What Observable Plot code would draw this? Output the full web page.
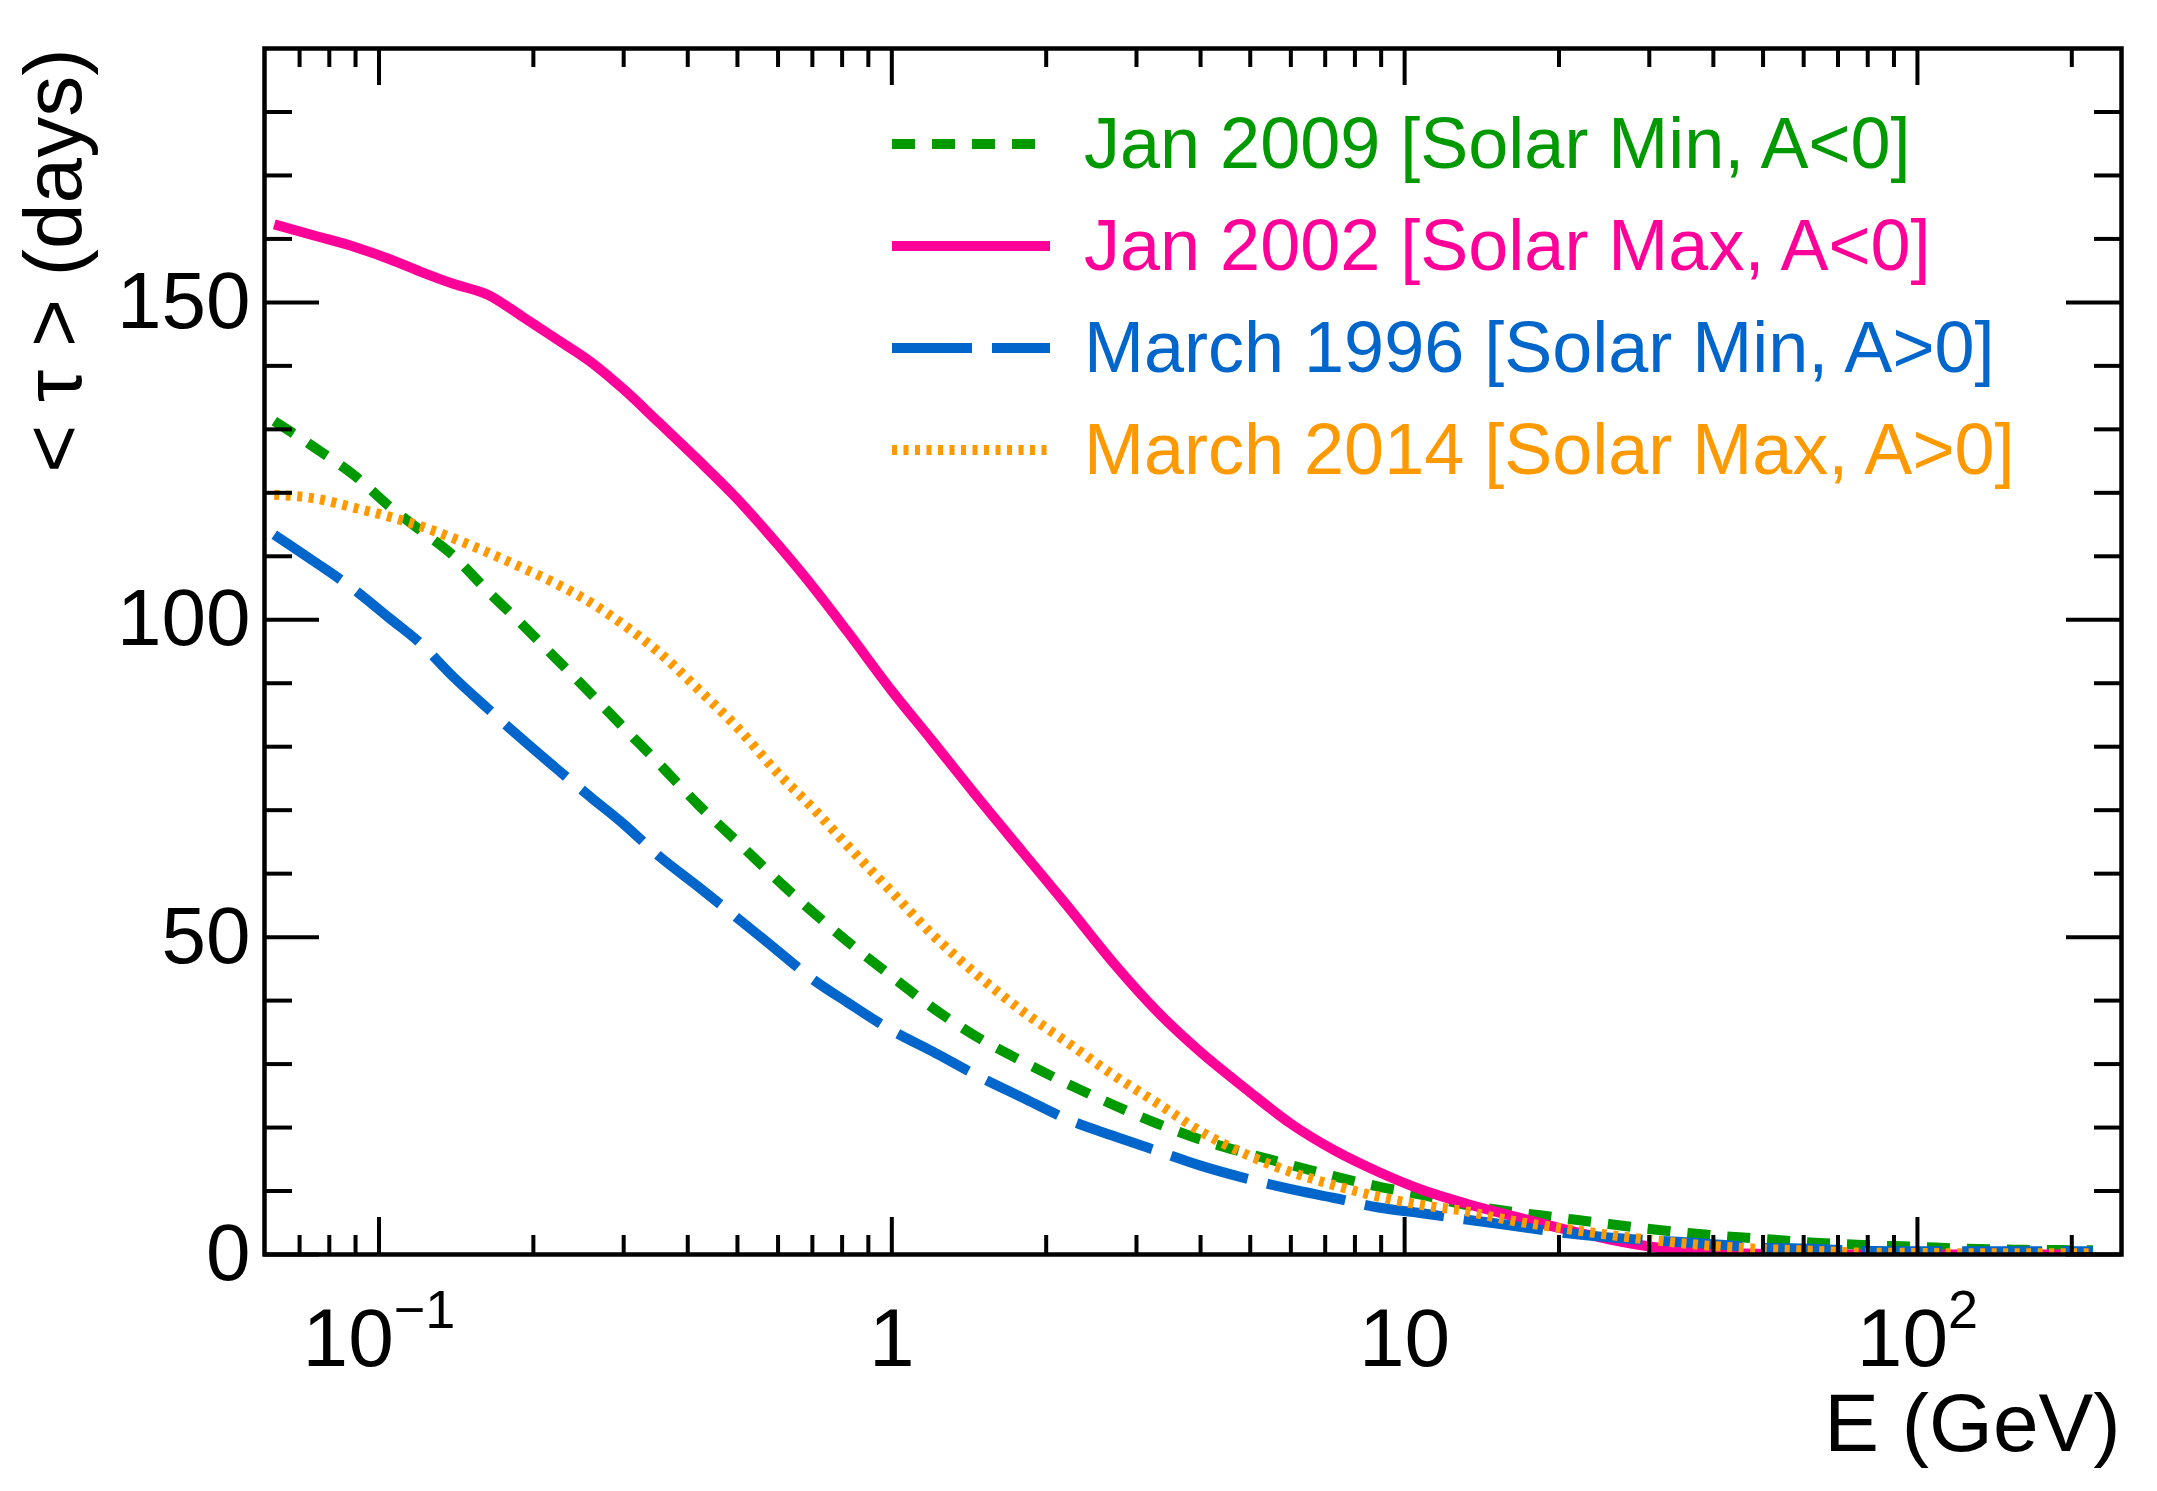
<!DOCTYPE html>
<html>
<head>
<meta charset="utf-8">
<script src="https://cdn.jsdelivr.net/npm/d3@7"></script>
<script src="https://cdn.jsdelivr.net/npm/@observablehq/plot@0.6"></script>
<style>
  html, body { margin: 0; padding: 0; background: #ffffff; }
  #chart svg { display: block; }
</style>
</head>
<body>
<div id="chart"></div>
<script>
// ---------------- data ----------------
const energy = [0.0625, 0.075, 0.09, 0.105, 0.12, 0.14, 0.163, 0.19, 0.22, 0.26, 0.3, 0.35, 0.42, 0.5, 0.6, 0.7, 0.82, 1.0, 1.2, 1.45, 1.8, 2.2, 2.7, 3.3, 4.0, 4.9, 6.0, 7.3, 8.9, 10.8, 13.2, 16, 20, 25, 31, 39, 49, 62, 78, 100, 125, 155, 190, 220];

const jan2009 = [131.3, 127.1, 122.6, 117.8, 114.2, 110.0, 104.5, 99.3, 94.1, 88.2, 83.0, 77.5, 70.8, 65.0, 58.9, 54.0, 49.3, 43.8, 38.9, 34.5, 30.4, 26.9, 23.6, 20.6, 18.1, 16.0, 14.1, 12.3, 10.7, 9.4, 7.8, 6.8, 5.8, 4.8, 3.9, 3.1, 2.5, 1.9, 1.5, 1.2, 0.9, 0.75, 0.7, 0.65];

const jan2002 = [162.3, 160.5, 158.7, 156.8, 154.9, 152.9, 151.2, 147.8, 144.4, 140.5, 136.3, 131.2, 125.1, 119.0, 111.8, 105.3, 98.1, 88.8, 80.9, 72.6, 63.4, 54.9, 46.0, 38.2, 31.9, 26.1, 20.6, 16.4, 13.0, 10.2, 8.0, 6.2, 4.2, 2.4, 1.1, 0.4, 0.1, 0.0, 0.0, 0.0, 0.0, 0.0, 0.0, 0.0];

const march1996 = [113.4, 109.1, 104.6, 100.2, 96.4, 90.9, 86.0, 81.2, 76.8, 71.9, 67.8, 62.9, 57.9, 53.0, 47.8, 43.4, 39.7, 35.3, 32.0, 28.4, 24.7, 21.3, 18.7, 16.3, 14.0, 12.0, 10.3, 8.9, 7.4, 6.5, 5.5, 4.6, 3.5, 2.7, 2.2, 1.7, 1.1, 0.9, 0.6, 0.5, 0.5, 0.5, 0.5, 0.5];

const march2014 = [119.7, 119.1, 117.6, 116.2, 114.8, 112.8, 110.6, 108.2, 105.8, 102.6, 99.2, 95.0, 89.0, 83.0, 75.8, 70.4, 64.4, 57.1, 50.4, 44.4, 38.3, 33.4, 28.3, 23.8, 19.4, 15.8, 13.0, 10.9, 9.1, 7.8, 6.8, 5.4, 4.2, 3.1, 2.2, 1.4, 0.9, 0.6, 0.3, 0.25, 0.2, 0.2, 0.2, 0.2];

const seriesLabels = ["Jan 2009 [Solar Min, A<0]", "Jan 2002 [Solar Max, A<0]", "March 1996 [Solar Min, A>0]", "March 2014 [Solar Max, A>0]"];
const seriesValues = [jan2009, jan2002, march1996, march2014];
const seriesColors = ["#009900", "#ff0099", "#0066cc", "#ff9900"];
const seriesDash = ["23 17", null, "80 20", "5 6.5"];

const yMajorTicks = [0, 50, 100, 150];
const yMinorTicks = [10, 20, 30, 40, 60, 70, 80, 90, 110, 120, 130, 140, 160, 170, 180];
const xMajorTicks = [0.1, 1, 10, 100];
const xMinorTicks = [0.07, 0.08, 0.09, 0.2, 0.3, 0.4, 0.5, 0.6, 0.7, 0.8, 0.9, 2, 3, 4, 5, 6, 7, 8, 9, 20, 30, 40, 50, 60, 70, 80, 90, 200];
const xTickBase = ["10", "1", "10", "10"];
const xTickExp = ["\u22121", "", "", "2"];
const xTitle = "E (GeV)";
const yTitle = "< \u03c4 > (days)";

// ---------------- layout ----------------
const W = 2157, H = 1491;
const mL = 264, mR = 36, mT = 48, mB = 237;
const plotW = W - mL - mR, plotH = H - mT - mB;
const FONT = "'Liberation Sans', Arial, Helvetica, sans-serif";
const LINE_W = 10;

const rows = vals => energy.map((e, i) => ({E: e, tau: vals[i]}));

const lineMarks = seriesValues.map((vals, k) =>
  Plot.line(rows(vals), {
    x: "E", y: "tau",
    stroke: seriesColors[k],
    strokeWidth: LINE_W,
    strokeDasharray: seriesDash[k] || undefined,
    strokeLinecap: "butt",
    strokeLinejoin: "round",
    curve: "monotone-x",
    clip: true
  })
);

const tickW = 4;
const chart = Plot.plot({
  width: W, height: H,
  marginLeft: mL, marginRight: mR, marginTop: mT, marginBottom: mB,
  style: {fontFamily: FONT, fontSize: "80px", background: "#ffffff", color: "#000"},
  x: {type: "log", domain: [0.0598, 250]},
  y: {domain: [0, 190]},
  marks: [
    ...lineMarks,
    // inward ticks, left & right
    Plot.tickY(yMajorTicks, {y: d => d, insetRight: plotW - 55, strokeWidth: tickW, stroke: "#000"}),
    Plot.tickY(yMajorTicks, {y: d => d, insetLeft: plotW - 55, strokeWidth: tickW, stroke: "#000"}),
    Plot.tickY(yMinorTicks, {y: d => d, insetRight: plotW - 28, strokeWidth: tickW, stroke: "#000"}),
    Plot.tickY(yMinorTicks, {y: d => d, insetLeft: plotW - 27, strokeWidth: tickW, stroke: "#000"}),
    // inward ticks, bottom & top
    Plot.tickX(xMajorTicks, {x: d => d, insetTop: plotH - 37, strokeWidth: tickW, stroke: "#000"}),
    Plot.tickX(xMajorTicks, {x: d => d, insetBottom: plotH - 37, strokeWidth: tickW, stroke: "#000"}),
    Plot.tickX(xMinorTicks, {x: d => d, insetTop: plotH - 19, strokeWidth: tickW, stroke: "#000"}),
    Plot.tickX(xMinorTicks, {x: d => d, insetBottom: plotH - 19, strokeWidth: tickW, stroke: "#000"}),
    Plot.frame({stroke: "#000", strokeWidth: 4.5}),
    Plot.axisY({ticks: yMajorTicks, tickSize: 0, tickPadding: 14, fontSize: 80, label: null, tickFormat: d => String(d)}),
    Plot.axisX({ticks: xMajorTicks, tickSize: 0, tickPadding: 53, fontSize: 82, label: null,
                tickFormat: d => xTickBase[xMajorTicks.indexOf(d)]}),
    Plot.text([xTitle], {text: d => d, frameAnchor: "bottom-right", textAnchor: "end", lineAnchor: "bottom", dy: 196, dx: -1, fontSize: 82, fill: "#000"}),
    Plot.text([yTitle], {text: d => d, frameAnchor: "top-left", rotate: -90, textAnchor: "end", lineAnchor: "bottom", dx: -184, fontSize: 82, fill: "#000"})
  ]
});

document.getElementById("chart").appendChild(chart);

// superscripts on the x tick labels
d3.select(chart).selectAll('g[aria-label="x-axis tick label"] text').each(function (_, i) {
  const exp = xTickExp[i];
  if (exp) {
    d3.select(this).append("tspan").attr("dy", -38).attr("font-size", 54).text(exp);
  }
});

// legend (inside the frame, top right)
const legend = d3.select(chart).append("g").attr("aria-label", "legend")
  .attr("font-family", FONT).attr("font-size", 72).attr("text-anchor", "start");
seriesLabels.forEach((label, k) => {
  const cy = 144 + k * 102;
  legend.append("line")
    .attr("x1", 892).attr("x2", 1050).attr("y1", cy).attr("y2", cy)
    .attr("stroke", seriesColors[k]).attr("stroke-width", LINE_W)
    .attr("stroke-dasharray", seriesDash[k]);
  legend.append("text")
    .attr("x", 1084).attr("y", cy + 24)
    .attr("text-anchor", "start")
    .attr("fill", seriesColors[k])
    .text(label);
});
</script>
</body>
</html>
